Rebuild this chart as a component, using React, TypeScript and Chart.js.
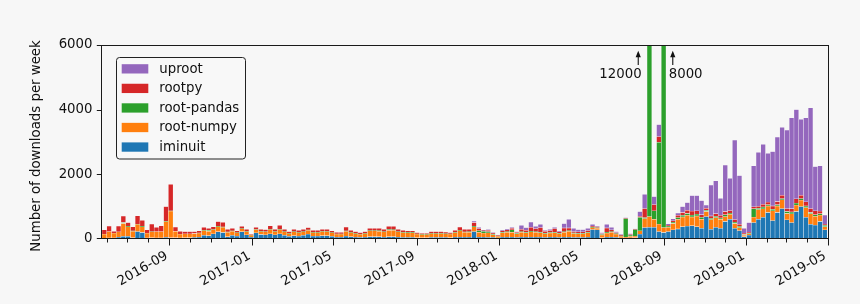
import React, { useEffect, useRef } from 'react';
import { Chart, registerables } from 'chart.js';
Chart.register(...registerables);

// Weekly bins starting 2016-05-23, one value per week (153 weeks)
const FIRST_WEEK = '2016-05-23';
const X_END = '2019-05-01';

const iminuit = [
  20, 30, 30, 60, 80, 80, 40, 230, 200, 30,
  40, 30, 30, 50, 40, 40, 30, 40, 40, 50,
  60, 110, 100, 160, 225, 200, 70, 110, 90, 225,
  130, 60, 190, 140, 130, 160, 130, 160, 110, 80,
  100, 90, 110, 150, 90, 90, 100, 100, 80, 60,
  60, 90, 70, 60, 50, 60, 70, 70, 70, 60,
  70, 70, 60, 50, 50, 50, 40, 40, 40, 50,
  50, 50, 50, 40, 60, 60, 60, 60, 230, 60,
  60, 50, 50, 30, 60, 60, 60, 50, 60, 60,
  60, 60, 60, 50, 60, 60, 50, 60, 60, 50,
  50, 50, 60, 290, 280, 40, 60, 60, 50, 30,
  20, 30, 40, 150, 350, 360, 360, 230, 200, 230,
  280, 310, 380, 400, 410, 380, 330, 690, 300, 360,
  330, 540, 610, 330, 260, 70, 120, 505, 610, 670,
  820, 570, 820, 940, 590, 505, 850, 1000, 670, 450,
  430, 540, 280,
];
const rootNumpy = [
  130, 200, 150, 160, 400, 300, 200, 220, 180, 150,
  180, 200, 200, 490, 820, 200, 120, 120, 120, 120,
  120, 150, 140, 130, 160, 160, 140, 130, 100, 90,
  100, 50, 100, 90, 90, 130, 100, 130, 110, 90,
  120, 110, 110, 120, 110, 110, 130, 130, 110, 90,
  90, 150, 130, 110, 95, 110, 180, 180, 170, 160,
  200, 200, 160, 150, 140, 140, 110, 100, 100, 120,
  120, 120, 110, 110, 140, 200, 150, 150, 150, 150,
  120, 140, 80, 50, 130, 150, 150, 110, 150, 130,
  160, 150, 130, 110, 120, 130, 110, 150, 180, 120,
  110, 110, 130, 60, 50, 80, 120, 150, 100, 50,
  40, 50, 50, 100, 280, 330, 250, 230, 150, 130,
  200, 300, 300, 330, 270, 330, 280, 160, 300, 300,
  280, 150, 150, 150, 90, 40, 40, 170, 300, 260,
  200, 300, 200, 270, 200, 270, 200, 200, 300, 330,
  270, 200, 100,
];
const rootPandas = [
  0, 0, 0, 0, 30, 20, 10, 10, 10, 0,
  5, 0, 0, 10, 10, 0, 0, 0, 0, 0,
  5, 5, 30, 10, 10, 10, 10, 10, 5, 5,
  5, 5, 5, 5, 5, 10, 5, 10, 10, 5,
  10, 5, 10, 10, 5, 5, 5, 5, 5, 5,
  5, 10, 5, 5, 5, 5, 10, 10, 20, 10,
  30, 20, 10, 10, 10, 10, 5, 5, 5, 5,
  5, 10, 5, 5, 10, 10, 10, 20, 20, 50,
  60, 40, 20, 10, 20, 20, 70, 20, 20, 20,
  20, 20, 20, 20, 20, 20, 20, 20, 20, 20,
  20, 20, 20, 20, 20, 20, 30, 20, 20, 20,
  570, 40, 200, 420, 30, 11300, 260, 2530, 7600, 40,
  40, 50, 50, 60, 60, 60, 60, 40, 40, 40,
  40, 60, 40, 40, 40, 30, 20, 260, 40, 60,
  40, 50, 40, 40, 60, 60, 60, 50, 50, 40,
  50, 40, 40,
];
const rootpy = [
  130, 170, 55, 180, 200, 105, 130, 260, 185, 100,
  240, 130, 180, 450, 820, 130, 85, 67, 67, 57,
  65, 95, 60, 80, 140, 145, 80, 80, 55, 70,
  65, 30, 65, 65, 65, 110, 65, 120, 70, 52,
  70, 65, 70, 70, 65, 65, 65, 65, 55, 50,
  50, 120, 65, 52, 45, 52, 70, 70, 70, 70,
  90, 100, 70, 60, 50, 50, 40, 30, 30, 52,
  52, 47, 50, 40, 60, 100, 80, 70, 110, 60,
  20, 40, 30, 20, 40, 50, 50, 27, 70, 60,
  120, 90, 140, 60, 60, 110, 40, 110, 80, 40,
  40, 40, 50, 30, 30, 30, 130, 50, 27, 25,
  10, 20, 10, 30, 280, 10, 195, 175, 0, 30,
  40, 70, 90, 100, 120, 100, 80, 60, 70, 80,
  80, 100, 80, 80, 60, 40, 30, 60, 60, 80,
  80, 100, 100, 100, 90, 100, 130, 100, 130, 120,
  120, 80, 40,
];
const uproot = [
  0, 0, 0, 0, 0, 0, 0, 0, 0, 0,
  0, 0, 0, 0, 0, 0, 0, 0, 0, 0,
  0, 0, 0, 0, 0, 0, 0, 0, 0, 0,
  0, 0, 0, 0, 0, 0, 0, 0, 0, 0,
  0, 0, 0, 0, 0, 0, 0, 0, 0, 0,
  0, 0, 0, 0, 0, 0, 0, 0, 0, 0,
  0, 0, 0, 0, 0, 0, 0, 0, 0, 0,
  0, 0, 0, 0, 0, 0, 0, 0, 46, 40,
  10, 20, 15, 14, 20, 20, 30, 20, 120, 80,
  165, 70, 100, 30, 40, 40, 30, 135, 270, 100,
  70, 70, 70, 50, 30, 25, 110, 80, 30, 30,
  20, 25, 10, 150, 440, 0, 245, 375, 0, 40,
  60, 70, 180, 240, 480, 470, 435, 100, 960, 1020,
  530, 1440, 1000, 2460, 1510, 150, 295, 1265, 1670, 1860,
  1510, 1680, 1990, 2100, 2430, 2815, 2760, 2350, 2600, 3120,
  1370, 1400, 280,
];

const seriesNames = ['iminuit', 'root-numpy', 'root-pandas', 'rootpy', 'uproot'];
const seriesColors = ['#1f77b4', '#ff7f0e', '#2ca02c', '#d62728', '#9467bd'];
const seriesData = [iminuit, rootNumpy, rootPandas, rootpy, uproot];

const majorTickLabels = ['2016-09', '2017-01', '2017-05', '2017-09', '2018-01', '2018-05', '2018-09', '2019-01', '2019-05'];
const yTickValues = [0, 2000, 4000, 6000];
const yMax = 6000;
const yTitle = 'Number of downloads per week';

// Off-scale annotations: label, day of arrow, day of text anchor, text alignment
const offScaleNotes = [
  { label: '12000', arrowDate: '2018-07-24', textDate: '2018-07-29', align: 'right' },
  { label: '8000', arrowDate: '2018-09-13', textDate: '2018-09-07', align: 'left' },
];

const BG = '#f7f7f7';
const FONT = '"DejaVu Sans", Verdana, sans-serif';
const FS = 13.3;
const DAY = 86400000;
const toUTC = (s: string) => {
  const p = s.split('-').map(Number);
  return Date.UTC(p[0], p[1] - 1, p[2] || 1);
};
const T0 = toUTC(FIRST_WEEK);
const dayOf = (s: string) => (toUTC(s) - T0) / DAY;

export default function App() {
  const ref = useRef<HTMLCanvasElement>(null);
  useEffect(() => {
    const canvas = ref.current;
    if (!canvas) return;
    const xMax = dayOf(X_END);
    const majorDays = majorTickLabels.map(dayOf);
    const monthDays: { d: number; major: boolean }[] = [];
    for (let y = 2016; y <= 2019; y++) {
      for (let m = 1; m <= 12; m++) {
        const key = `${y}-${String(m).padStart(2, '0')}`;
        const d = dayOf(key);
        if (d < 0 || d > xMax + 0.01) continue;
        monthDays.push({ d, major: majorTickLabels.includes(key) });
      }
    }

    const datasets = seriesData.map((arr, k) => ({
      label: seriesNames[k],
      data: arr.map((v, i) => ({ x: i * 7 + 3.5, y: v })),
      backgroundColor: seriesColors[k],
      borderColor: 'rgba(255,255,255,0.3)',
      borderWidth: 0.5,
      borderSkipped: false,
      barPercentage: 1,
      categoryPercentage: 1,
    }));

    const decor = {
      id: 'decor',
      beforeDraw(chart: any) {
        const { ctx, width, height } = chart;
        ctx.save();
        ctx.fillStyle = BG;
        ctx.fillRect(0, 0, width, height);
        ctx.restore();
      },
      afterDatasetsDraw(chart: any) {
        const { ctx, chartArea: a, scales } = chart;
        const xs = scales.x;
        const ys = scales.y;
        ctx.save();
        ctx.strokeStyle = '#1a1a1a';
        ctx.lineWidth = 1;
        // frame
        const L = Math.round(a.left) - 0.5, R = Math.round(a.right) - 0.5;
        const T = Math.round(a.top) + 0.5, B = Math.round(a.bottom) - 0.5;
        ctx.strokeRect(L, T, R - L, B - T);
        // x ticks
        ctx.beginPath();
        for (const t of monthDays) {
          const px = Math.round(xs.getPixelForValue(t.d)) - 0.5;
          ctx.moveTo(px, B);
          ctx.lineTo(px, B + (t.major ? 7 : 4));
        }
        // y ticks
        for (const v of yTickValues) {
          const py = Math.round(ys.getPixelForValue(v)) + (v === 0 ? -0.5 : 0.5);
          ctx.moveTo(L, py);
          ctx.lineTo(L - 4.7, py);
        }
        ctx.stroke();

        // legend
        const lx = 116.5, ly = 57.5, lw = 129, lh = 101.5;
        ctx.beginPath();
        const r = 3;
        ctx.moveTo(lx + r, ly);
        ctx.lineTo(lx + lw - r, ly);
        ctx.arcTo(lx + lw, ly, lx + lw, ly + r, r);
        ctx.lineTo(lx + lw, ly + lh - r);
        ctx.arcTo(lx + lw, ly + lh, lx + lw - r, ly + lh, r);
        ctx.lineTo(lx + r, ly + lh);
        ctx.arcTo(lx, ly + lh, lx, ly + lh - r, r);
        ctx.lineTo(lx, ly + r);
        ctx.arcTo(lx, ly, lx + r, ly, r);
        ctx.closePath();
        ctx.fillStyle = 'rgba(247,247,247,0.9)';
        ctx.fill();
        ctx.strokeStyle = '#222';
        ctx.stroke();
        ctx.font = `${FS}px ${FONT}`;
        ctx.textBaseline = 'middle';
        ctx.textAlign = 'left';
        for (let j = 0; j < seriesNames.length; j++) {
          const k = seriesNames.length - 1 - j;
          const cy = 68.8 + j * 19.55;
          ctx.fillStyle = seriesColors[k];
          ctx.fillRect(121.7, cy - 4.6, 26.6, 9.3);
          ctx.fillStyle = '#111';
          ctx.fillText(seriesNames[k], 159.3, cy + 0.5);
        }

        // off-scale annotations
        ctx.strokeStyle = '#111';
        ctx.fillStyle = '#111';
        ctx.lineWidth = 1.1;
        for (const n of offScaleNotes) {
          const ax = xs.getPixelForValue(dayOf(n.arrowDate));
          const tx = xs.getPixelForValue(dayOf(n.textDate));
          const tip = a.top + 5.7;
          ctx.beginPath();
          ctx.moveTo(ax, a.top + 20);
          ctx.lineTo(ax, tip + 5);
          ctx.stroke();
          ctx.beginPath();
          ctx.moveTo(ax, tip);
          ctx.lineTo(ax - 2.6, tip + 6.5);
          ctx.lineTo(ax + 2.6, tip + 6.5);
          ctx.closePath();
          ctx.fill();
          ctx.textAlign = n.align as CanvasTextAlign;
          ctx.textBaseline = 'alphabetic';
          ctx.fillText(n.label, tx, a.top + 33);
        }

        // y title
        ctx.save();
        ctx.translate(37, (a.top + a.bottom) / 2 + 4);
        ctx.rotate(-Math.PI / 2);
        ctx.textAlign = 'center';
        ctx.textBaseline = 'middle';
        ctx.fillText(yTitle, 0, 0);
        ctx.restore();
        ctx.restore();
      },
    };

    const chart = new Chart(canvas, {
      type: 'bar',
      data: { datasets: datasets as any },
      options: {
        responsive: false,
        animation: false,
        devicePixelRatio: 1,
        layout: { padding: { left: 0, top: 45, right: 31.5, bottom: 0 } },
        plugins: { legend: { display: false }, tooltip: { enabled: false } },
        scales: {
          x: {
            type: 'linear',
            stacked: true,
            offset: false,
            min: 0,
            max: xMax,
            grid: { display: false, drawTicks: false },
            border: { display: false },
            afterBuildTicks: (s: any) => {
              s.ticks = majorDays.map((v) => ({ value: v }));
            },
            afterFit: (s: any) => {
              s.height = 65;
            },
            ticks: {
              autoSkip: false,
              minRotation: 30,
              maxRotation: 30,
              padding: 9,
              labelOffset: -3.5,
              color: '#111',
              font: { family: FONT, size: FS },
              callback: (_v: any, i: number) => majorTickLabels[i],
            },
          },
          y: {
            stacked: true,
            min: 0,
            max: yMax,
            grid: { display: false, drawTicks: false },
            border: { display: false },
            afterBuildTicks: (s: any) => {
              s.ticks = yTickValues.map((v) => ({ value: v }));
            },
            afterFit: (s: any) => {
              s.width = 102;
            },
            ticks: {
              padding: 9.5,
              color: '#111',
              font: { family: FONT, size: FS },
              callback: (v: any) => String(v),
            },
          },
        },
      },
      plugins: [decor],
    });
    return () => chart.destroy();
  }, []);

  return (
    <div style={{ position: 'fixed', left: 0, top: 0, width: 860, height: 304, background: BG }}>
      <canvas ref={ref} width={860} height={304} style={{ width: 860, height: 304, display: 'block' }} />
    </div>
  );
}
